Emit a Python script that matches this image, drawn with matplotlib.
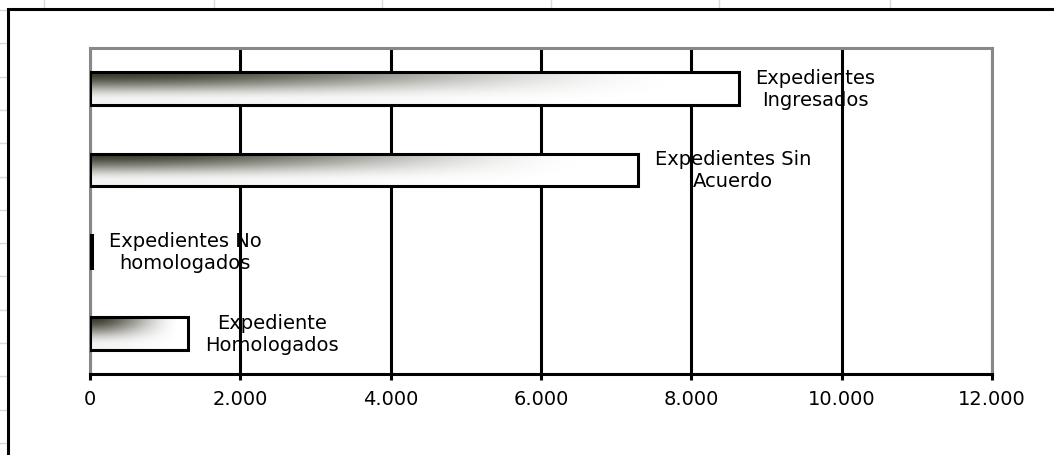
import numpy as np
import matplotlib
matplotlib.use("Agg")
import matplotlib.pyplot as plt
from matplotlib.colors import LinearSegmentedColormap
from matplotlib.lines import Line2D
from matplotlib.patches import Rectangle
from matplotlib.ticker import FuncFormatter

# data (bottom to top)
categories = [
    "Expediente\nHomologados",
    "Expedientes No\nhomologados",
    "Expedientes Sin\nAcuerdo",
    "Expedientes\nIngresados",
]
values = [1310, 30, 7290, 8630]
xticks = [0, 2000, 4000, 6000, 8000, 10000, 12000]

W, H = 1054, 456
fig = plt.figure(figsize=(W / 100, H / 100), dpi=100)
fig.patch.set_facecolor("white")

# spreadsheet grid behind the chart object
grid_col = "#d3d9e6"
for px in [44, 214, 382, 551, 719, 890]:
    fig.add_artist(Line2D([px / W, px / W], [0, 1], color=grid_col, lw=1,
                          transform=fig.transFigure, zorder=0))
for py in np.arange(11, H, 33.3):
    fig.add_artist(Line2D([0, 1], [1 - py / H, 1 - py / H], color=grid_col,
                          lw=1, transform=fig.transFigure, zorder=0))

# chart area frame
fig.add_artist(Rectangle((7.5 / W, -0.2), 1.2, 1.2 - 9.5 / H,
                         transform=fig.transFigure, facecolor="white",
                         edgecolor="black", lw=2.2, zorder=1))

ax = fig.add_axes([90 / W, 1 - 375 / H, (992 - 90) / W, (375 - 48.5) / H])
ax.set_zorder(2)
ax.set_facecolor("white")


def smoothstep(x, edge):
    x = np.clip(x / edge, 0, 1)
    return 3 * x ** 2 - 2 * x ** 3


# fill: dark in the top-left corner, fading to the right and to the bottom
cmap = LinearSegmentedColormap.from_list("bar", ["#ffffff", "#38382a"])
u = np.linspace(0, 1, 400)[None, :]
w = np.linspace(0, 1, 60)[:, None]
dark_h = 1 - smoothstep(u, 0.92)
dark_v = 0.06 + 0.94 * (1 - smoothstep(w, 0.85))
grad = dark_h * dark_v

bh = 0.4
ypos = np.arange(len(categories))
for y, v, lab in zip(ypos, values, categories):
    ax.imshow(grad, cmap=cmap, vmin=0, vmax=1, aspect="auto",
              extent=[0, v, y - bh / 2, y + bh / 2], zorder=3,
              interpolation="bilinear")
    ax.annotate(lab, xy=(v, y), xytext=(12, 0), textcoords="offset points",
                ha="left", va="center", multialignment="center",
                fontsize=14, family="DejaVu Sans", color="black", zorder=5)
ax.barh(ypos, values, height=bh, facecolor="none", edgecolor="black",
        lw=2.2, zorder=4)

ax.set_xlim(0, 12000)
ax.set_ylim(-0.5, len(categories) - 0.5)
ax.set_xticks(xticks)
ax.xaxis.set_major_formatter(FuncFormatter(lambda x, p: f"{int(x):,}".replace(",", ".")))
ax.set_yticks([])
ax.grid(axis="x", color="black", lw=2.2, zorder=1)
ax.set_axisbelow(True)

for side in ["left", "top", "right"]:
    ax.spines[side].set_color("#888888")
    ax.spines[side].set_linewidth(2.2)
ax.spines["bottom"].set_color("black")
ax.spines["bottom"].set_linewidth(2.2)
ax.tick_params(axis="x", direction="out", length=4, width=2.2, pad=7,
               labelsize=14, colors="black")

fig.savefig("out.png", dpi=100)
